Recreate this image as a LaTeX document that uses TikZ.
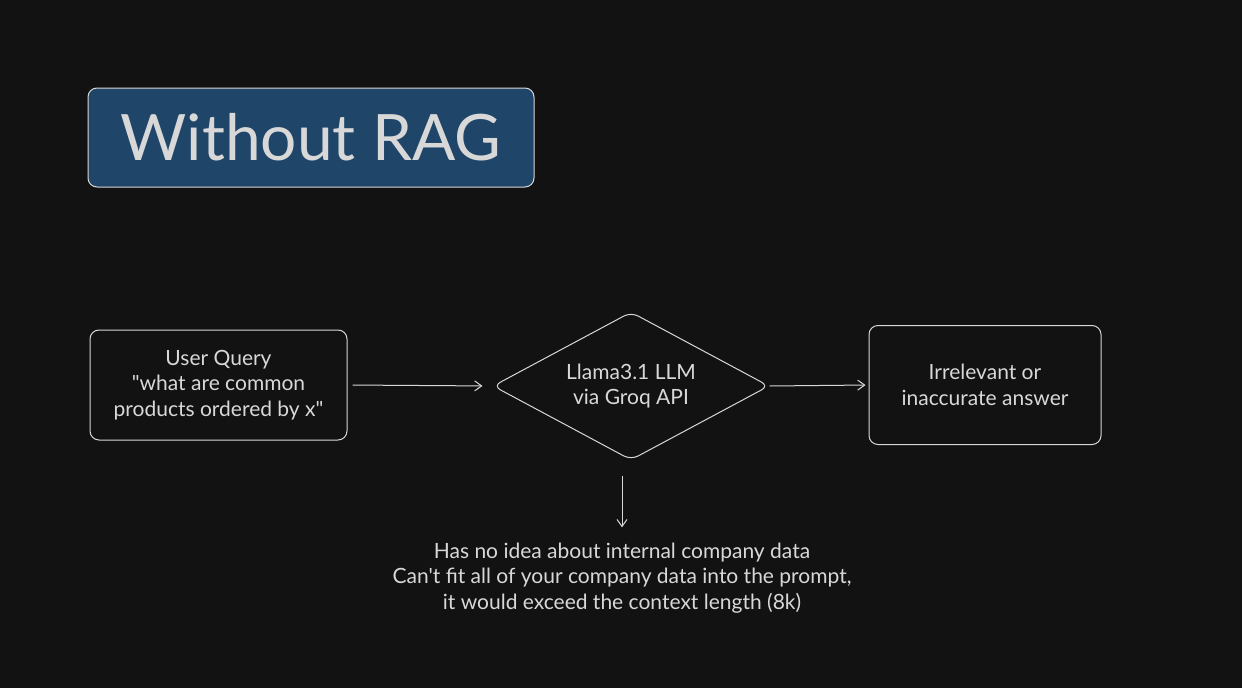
\documentclass[tikz,border=0pt]{standalone}
\usepackage{fontspec}
\setmainfont{Lato}[Ligatures=TeXOff]
\usetikzlibrary{shapes.geometric,arrows.meta}
\definecolor{bg}{HTML}{121212}
\definecolor{ink}{HTML}{D8D8D8}
\definecolor{titlefill}{HTML}{1F4568}
\tikzset{
  box/.style={draw=ink, line width=1pt, rounded corners=9pt, text=ink, align=center, inner sep=0pt},
  txt/.style={text=ink, align=center, font=\fontsize{21}{25.5}\selectfont},
  conn/.style={draw=ink, line width=1pt, -{Straight Barb[length=7pt,width=10pt]}},
}
\begin{document}
\begin{tikzpicture}[x=1pt,y=-1pt]
\fill[bg] (0,0) rectangle (1242,688);
\useasboundingbox (0,0) rectangle (1242,688);
\node[box, fill=titlefill, minimum width=446pt, minimum height=99pt, font=\fontsize{64}{68}\selectfont] (title) at (311,137.5) {Without RAG};
\node[box, minimum width=257pt, minimum height=110pt, txt] (q) at (218.5,385) {User Query\\"what are common\\products ordered by x"};
\node[draw=ink, line width=1pt, diamond, aspect=2, minimum width=276pt, minimum height=148pt, rounded corners=8pt, inner sep=0pt, txt] (llm) at (631,386) {Llama3.1 LLM\\via Groq API};
\node[box, minimum width=232pt, minimum height=119pt, txt] (ans) at (985,385) {Irrelevant or\\inaccurate answer};
\node[txt] (note) at (622,578) {Has no idea about internal company data\\Can't fit all of your company data into the prompt,\\it would exceed the context length (8k)};
\draw[conn, shorten <=5pt, shorten >=10pt] (q.east) -- (llm.west);
\draw[conn, shorten >=3pt] (llm.east) -- (ans.west);
\draw[conn, shorten <=15pt, shorten >=12pt] (llm.south -| note.north) -- (note.north);
\end{tikzpicture}
\end{document}
